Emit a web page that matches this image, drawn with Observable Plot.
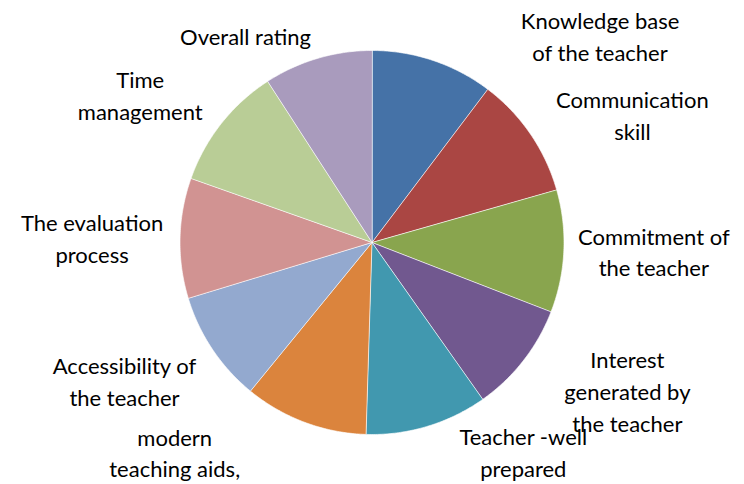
<!DOCTYPE html>
<html>
<head>
<meta charset="utf-8">
<script src="https://cdn.jsdelivr.net/npm/d3@7"></script>
<script src="https://cdn.jsdelivr.net/npm/@observablehq/plot@0.6"></script>
<style>
  html, body { margin: 0; padding: 0; background: #fff; }
  #chart { width: 744px; height: 484px; }
</style>
</head>
<body>
<div id="chart"></div>
<script>
// ---- data (slice shares in percent) ----
const categories = [
  "Knowledge base\nof the teacher",
  "Communication\nskill",
  "Commitment of\nthe teacher",
  "Interest\ngenerated by\nthe teacher",
  "Teacher -well\nprepared",
  "modern\nteaching aids,",
  "Accessibility of\nthe teacher",
  "The evaluation\nprocess",
  "Time\nmanagement",
  "Overall rating"
];
const shares = [10.3, 10.28, 10.3, 9.33, 10.28, 10.42, 9.39, 10.11, 10.44, 9.15];

// ---- styles ----
const colors = ["#4572A7", "#AA4643", "#89A54E", "#71588F", "#4198AF",
                "#DB843D", "#93A9CF", "#D19392", "#B9CD96", "#A99BBD"];
// label offsets (px) from the mid-angle point on the rim
const labelNudge = [[167, -26], [102, -20], [90, -1], [104, 29], [96, 24],
                    [-130, 29], [-88, 30], [-88, -1], [-81, -30], [-72, -24]];

const W = 744, H = 484, CX = 371.5, CY = 242, R = 192;

// pie layout: clockwise from 12 o'clock, in data order
const pie = d3.pie().sort(null).value(d => d)(shares);

// slice outlines (unit circle), sampled along each arc
const slicePts = [];
pie.forEach((p, i) => {
  const name = categories[i];
  slicePts.push({name, x: 0, y: 0});
  const n = Math.max(2, Math.ceil((p.endAngle - p.startAngle) / 0.01));
  for (let k = 0; k <= n; k++) {
    const a = p.startAngle + (p.endAngle - p.startAngle) * k / n;
    slicePts.push({name, x: Math.sin(a), y: Math.cos(a)});
  }
});

const labels = pie.map((p, i) => {
  const a = (p.startAngle + p.endAngle) / 2;
  return {
    text: categories[i],
    x: Math.sin(a) + labelNudge[i][0] / R,
    y: Math.cos(a) - labelNudge[i][1] / R
  };
});

const chart = Plot.plot({
  width: W,
  height: H,
  margin: 0,
  style: {background: "#fff", fontFamily: "Lato, 'Liberation Sans', sans-serif"},
  x: {domain: [-1, 1], range: [CX - R, CX + R], axis: null},
  y: {domain: [-1, 1], range: [CY + R, CY - R], axis: null},
  color: {domain: categories, range: colors},
  marks: [
    Plot.line(slicePts, {
      x: "x", y: "y", z: "name", fill: "name",
      stroke: "#ffffff", strokeWidth: 0.8, strokeOpacity: 0.8,
      curve: "linear-closed"
    }),
    Plot.text(labels, {
      x: "x", y: "y", text: "text",
      fontSize: 22, lineHeight: 1.45, fill: "#000",
      textAnchor: "middle", lineAnchor: "middle"
    })
  ]
});
document.getElementById("chart").appendChild(chart);
</script>
</body>
</html>
